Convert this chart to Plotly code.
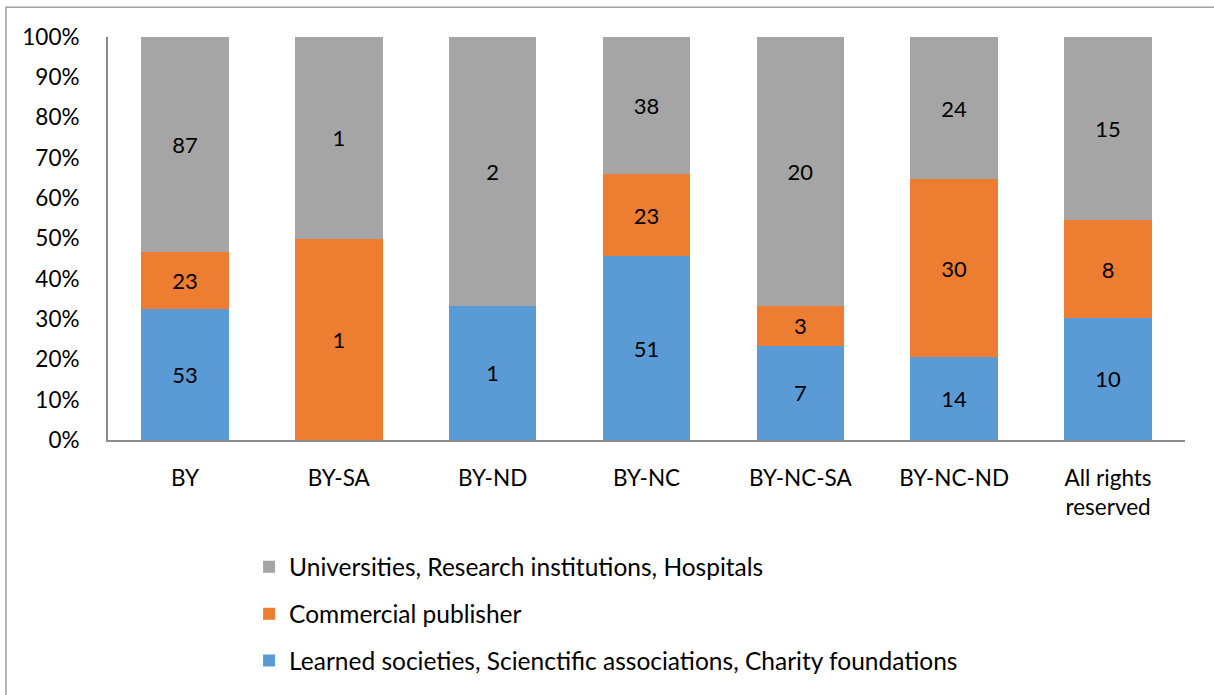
import plotly.graph_objects as go

# License types on the x axis
licenses = ['BY', 'BY-SA', 'BY-ND', 'BY-NC', 'BY-NC-SA', 'BY-NC-ND', 'All rights<br>reserved']

# Counts per publisher type (stacked bottom -> top)
learned_societies = [53, 0, 1, 51, 7, 14, 10]
commercial = [23, 1, 0, 23, 3, 30, 8]
universities = [87, 1, 2, 38, 20, 24, 15]

series = [
    ('Learned societies, Scienctific associations, Charity foundations', learned_societies, '#5B9BD5'),
    ('Commercial publisher', commercial, '#ED7D31'),
    ('Universities, Research institutions, Hospitals', universities, '#A5A5A5'),
]

FONT = 'Lato, Open Sans, sans-serif'

fig = go.Figure()
for i, (name, vals, color) in enumerate(series):
    fig.add_trace(go.Bar(
        x=licenses,
        y=vals,
        name=name,
        marker_color=color,
        marker_line_width=0,
        text=[str(v) if v else '' for v in vals],
        textposition='inside',
        insidetextanchor='middle',
        textangle=0,
        textfont=dict(size=22, color='black', family=FONT),
        legendgroup=str(i),
        legendrank=3 - i,  # top of the stack listed first
    ))

fig.update_layout(
    barmode='stack',
    barnorm='percent',
    bargap=0.43,
    width=1214,
    height=695,
    margin=dict(l=108, r=29, t=37, b=253),
    plot_bgcolor='white',
    paper_bgcolor='white',
    font=dict(family=FONT, size=22, color='black'),
    uniformtext=dict(minsize=10, mode='show'),
    legend=dict(
        traceorder='grouped',
        orientation='v',
        x=0.131,
        y=-0.259,
        xanchor='left',
        yanchor='top',
        font=dict(size=24.5, family=FONT),
        tracegroupgap=12,
        itemwidth=30,
    ),
    shapes=[dict(
        type='rect', xref='paper', yref='paper',
        x0=(6 - 108) / 1077, x1=1.2, y0=-0.9, y1=(442 - 7) / 405,
        line=dict(color='#A0A0A0', width=1.5), fillcolor='rgba(0,0,0,0)',
        layer='below',
    )],
)

fig.update_yaxes(
    range=[0, 100],
    dtick=10,
    ticksuffix='%',
    showgrid=False,
    showline=True,
    linecolor='#8C8C8C',
    linewidth=2,
    ticks='outside',
    ticklen=22,
    tickcolor='rgba(0,0,0,0)',
    tickfont=dict(size=22.5),
    zeroline=False,
)
fig.update_xaxes(
    showline=True,
    linecolor='#8C8C8C',
    linewidth=2,
    ticks='outside',
    ticklen=17,
    tickcolor='rgba(0,0,0,0)',
    tickfont=dict(size=22.5),
)

# page body has a default 8px margin; drop it so the figure fills the window
fig.write_html("out.html", config={'displayModeBar': False},
               post_script="document.body.style.margin='0';")
